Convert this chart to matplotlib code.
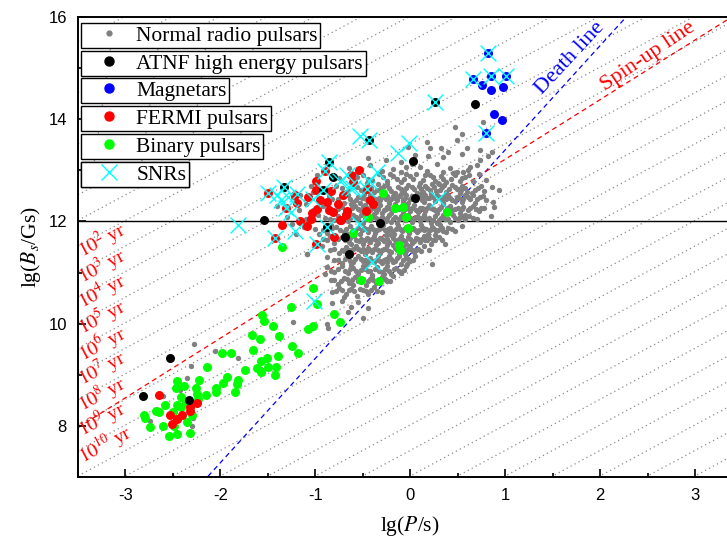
import matplotlib.pyplot as plt
import numpy as np
from matplotlib.lines import Line2D

plt.rcParams['font.family'] = ['Liberation Serif', 'DejaVu Serif']
plt.rcParams['mathtext.fontset'] = 'stix'
plt.rcParams['axes.unicode_minus'] = False

# values: (lg(P/s), lg(B_s/Gs))
normal_psr = np.array([
    (0.18, 13.55), (0.32, 13.43), (0.49, 13.59), (0.47, 13.84), (0.54, 13.72), (0.60, 13.43), (0.74, 13.39),
    (0.86, 13.36), (0.77, 13.95), (0.21, 13.43), (-0.02, 13.45),
    (-0.26, 13.20), (-0.10, 13.16), (0.19, 13.29), (0.35, 13.26), (0.73, 13.20), (0.82, 13.29), (0.05, 13.30),
    (0.55, 13.32), (-0.45, 13.25), (0.40, 13.35),
    (-0.64, 13.05), (-0.42, 13.10), (-0.18, 13.03), (-0.05, 13.06), (0.10, 13.06), (0.28, 13.13), (0.35, 12.97),
    (0.49, 12.97), (0.61, 13.00), (0.70, 13.10), (0.63, 13.06), (0.56, 12.97), (-0.30, 12.98), (0.18, 12.99),
    (-0.10, 12.96), (0.42, 13.05), (0.02, 13.12), (-0.55, 12.98),
    (-0.75, 12.85), (-0.62, 12.78), (-0.50, 12.90), (-0.40, 12.82), (-0.33, 12.92), (-0.25, 12.80), (-0.18, 12.88),
    (-0.10, 12.78), (-0.04, 12.92), (0.03, 12.84), (0.10, 12.76), (0.16, 12.90), (0.21, 12.90), (0.26, 12.80),
    (0.32, 12.88), (0.38, 12.78), (0.47, 12.90), (0.52, 12.80), (0.58, 12.86), (0.66, 12.79), (0.72, 12.92),
    (-0.58, 12.93), (-0.14, 12.84), (0.06, 12.93), (0.29, 12.76), (0.43, 12.84), (-0.46, 12.76), (0.80, 12.82),
    (-0.88, 12.62), (-0.78, 12.70), (-0.68, 12.58), (-0.60, 12.72), (-0.52, 12.62), (-0.44, 12.70), (-0.38, 12.58),
    (-0.31, 12.66), (-0.24, 12.74), (-0.20, 12.60), (-0.13, 12.68), (-0.07, 12.58), (-0.02, 12.72), (0.04, 12.63),
    (0.09, 12.70), (0.13, 12.58), (0.18, 12.66), (0.23, 12.74), (0.27, 12.60), (0.33, 12.68), (0.38, 12.58),
    (0.44, 12.72), (0.49, 12.63), (0.55, 12.70), (0.60, 12.57), (0.65, 12.56), (0.71, 12.66), (0.78, 12.60),
    (0.86, 12.68), (-0.16, 12.56), (0.07, 12.56), (0.30, 12.74), (-0.34, 12.73), (0.52, 12.56), (-0.72, 12.66),
    (0.93, 12.62),
    (-0.95, 12.40), (-0.86, 12.50), (-0.76, 12.44), (-0.66, 12.52), (-0.60, 12.38), (-0.55, 12.47), (-0.49, 12.54),
    (-0.45, 12.40), (-0.40, 12.48), (-0.35, 12.37), (-0.30, 12.52), (-0.26, 12.43), (-0.22, 12.36), (-0.18, 12.50),
    (-0.14, 12.41), (-0.10, 12.54), (-0.06, 12.45), (-0.02, 12.37), (0.02, 12.50), (0.06, 12.42), (0.10, 12.54),
    (0.14, 12.38), (0.18, 12.46), (0.22, 12.53), (0.26, 12.40), (0.31, 12.48), (0.35, 12.36), (0.40, 12.51),
    (0.44, 12.42), (0.49, 12.48), (0.54, 12.38), (0.58, 12.52), (0.63, 12.44), (0.68, 12.37), (0.74, 12.48),
    (0.80, 12.42), (0.87, 12.38), (-0.70, 12.36), (-0.53, 12.36), (-0.33, 12.45), (-0.08, 12.38), (0.12, 12.46),
    (0.38, 12.44), (0.66, 12.52),
    (-1.02, 12.22), (-0.92, 12.30), (-0.80, 12.20), (-0.72, 12.28), (-0.64, 12.18), (-0.58, 12.30), (-0.53, 12.22),
    (-0.48, 12.33), (-0.44, 12.16), (-0.40, 12.26), (-0.36, 12.18), (-0.32, 12.32), (-0.28, 12.22), (-0.24, 12.28),
    (-0.20, 12.17), (-0.16, 12.34), (-0.12, 12.24), (-0.08, 12.16), (-0.04, 12.30), (0.00, 12.21), (0.04, 12.33),
    (0.08, 12.18), (0.12, 12.27), (0.16, 12.20), (0.20, 12.32), (0.24, 12.24), (0.28, 12.16), (0.32, 12.29),
    (0.37, 12.21), (0.42, 12.31), (0.47, 12.24), (0.52, 12.17), (0.56, 12.29), (0.61, 12.22), (0.66, 12.30),
    (0.72, 12.20), (0.88, 12.29), (-0.62, 12.34), (-0.46, 12.26), (-0.30, 12.16), (-0.14, 12.28), (0.02, 12.26),
    (0.18, 12.26), (0.35, 12.34), (0.58, 12.12), (0.78, 12.27),
    (-1.10, 12.05), (-0.97, 12.12), (-0.85, 12.04), (-0.76, 12.10), (-0.66, 12.00), (-0.60, 12.12), (-0.55, 12.04),
    (-0.50, 11.97), (-0.46, 12.10), (-0.42, 12.02), (-0.38, 12.14), (-0.34, 11.98), (-0.30, 12.08), (-0.26, 12.00),
    (-0.22, 12.12), (-0.18, 12.04), (-0.14, 11.96), (-0.10, 12.10), (-0.06, 12.02), (-0.02, 12.13), (0.02, 11.98),
    (0.06, 12.08), (0.10, 12.00), (0.14, 12.12), (0.18, 12.04), (0.22, 11.96), (0.26, 12.10), (0.30, 12.02),
    (0.35, 12.12), (0.40, 12.05), (0.45, 12.12), (0.50, 12.02), (0.55, 12.08), (0.62, 12.10), (0.70, 12.04),
    (-0.70, 12.14), (-0.52, 12.13), (-0.36, 12.06), (-0.20, 11.98), (-0.04, 12.06), (0.12, 12.06), (0.28, 11.97),
    (0.42, 11.98), (0.85, 12.10),
    (-1.00, 11.85), (-0.88, 11.78), (-0.78, 11.90), (-0.70, 11.80), (-0.63, 11.92), (-0.58, 11.82), (-0.53, 11.76),
    (-0.49, 11.88), (-0.45, 11.80), (-0.41, 11.92), (-0.37, 11.77), (-0.33, 11.86), (-0.29, 11.94), (-0.25, 11.80),
    (-0.21, 11.88), (-0.17, 11.76), (-0.13, 11.92), (-0.09, 11.82), (-0.05, 11.90), (-0.01, 11.78), (0.03, 11.88),
    (0.07, 11.80), (0.11, 11.93), (0.15, 11.83), (0.19, 11.76), (0.23, 11.90), (0.27, 11.82), (0.31, 11.93),
    (0.35, 11.82), (0.40, 11.88), (0.47, 11.81), (0.55, 11.92), (-0.66, 11.76), (-0.43, 11.86), (-0.27, 11.84),
    (-0.11, 11.86), (0.05, 11.84), (0.21, 11.84), (0.26, 11.73), (-0.83, 11.93),
    (-0.92, 11.65), (-0.80, 11.58), (-0.72, 11.70), (-0.65, 11.60), (-0.59, 11.72), (-0.54, 11.62), (-0.50, 11.56),
    (-0.46, 11.68), (-0.42, 11.60), (-0.38, 11.72), (-0.34, 11.58), (-0.30, 11.66), (-0.26, 11.74), (-0.22, 11.60),
    (-0.18, 11.68), (-0.14, 11.57), (-0.10, 11.72), (-0.06, 11.62), (-0.02, 11.70), (0.02, 11.58), (0.06, 11.68),
    (0.10, 11.60), (0.14, 11.72), (0.18, 11.64), (0.22, 11.56), (0.30, 11.70), (0.37, 11.56), (-0.62, 11.56),
    (-0.40, 11.66), (-0.20, 11.74), (-0.04, 11.56), (0.12, 11.66), (-0.85, 11.72), (0.26, 11.63),
    (-0.85, 11.45), (-0.75, 11.38), (-0.68, 11.50), (-0.62, 11.40), (-0.57, 11.52), (-0.52, 11.42), (-0.48, 11.36),
    (-0.44, 11.48), (-0.40, 11.40), (-0.36, 11.53), (-0.32, 11.38), (-0.28, 11.46), (-0.24, 11.54), (-0.20, 11.40),
    (-0.16, 11.48), (-0.12, 11.37), (-0.08, 11.50), (-0.04, 11.42), (0.00, 11.52), (0.04, 11.40), (0.08, 11.47),
    (0.14, 11.52), (-0.55, 11.47), (-0.34, 11.45), (-0.18, 11.54), (-0.06, 11.36), (-0.70, 11.42), (-1.09, 11.37),
    (0.20, 11.45), (-0.93, 11.52),
    (-0.80, 11.25), (-0.72, 11.18), (-0.66, 11.30), (-0.60, 11.20), (-0.55, 11.32), (-0.50, 11.22), (-0.46, 11.16),
    (-0.42, 11.28), (-0.38, 11.20), (-0.34, 11.33), (-0.30, 11.18), (-0.26, 11.26), (-0.22, 11.32), (-0.18, 11.20),
    (-0.14, 11.28), (-0.10, 11.17), (-0.05, 11.30), (0.00, 11.22), (0.05, 11.32), (0.23, 11.17), (-0.58, 11.26),
    (-0.40, 11.22), (-0.24, 11.20), (-0.12, 11.33), (-0.88, 11.30), (-0.03, 11.16),
    (-0.88, 11.10), (-0.80, 11.02), (-0.72, 11.12), (-0.66, 11.00), (-0.60, 11.08), (-0.55, 10.98), (-0.50, 11.12),
    (-0.45, 11.04), (-0.40, 10.96), (-0.35, 11.10), (-0.30, 11.02), (-0.25, 11.12), (-0.20, 10.98), (-0.15, 11.08),
    (-0.10, 11.00), (-0.05, 11.12), (-0.90, 10.97), (-0.62, 11.14), (-0.28, 10.97),
    (-0.84, 10.85), (-0.76, 10.78), (-0.70, 10.90), (-0.64, 10.80), (-0.58, 10.92), (-0.52, 10.82), (-0.47, 10.76),
    (-0.42, 10.88), (-0.36, 10.80), (-0.30, 10.92), (-0.24, 10.84), (-0.18, 10.94), (-0.60, 10.76), (-0.40, 10.94),
    (-0.82, 10.62), (-0.75, 10.70), (-0.68, 10.58), (-0.62, 10.68), (-0.56, 10.55), (-0.50, 10.66), (-0.44, 10.58),
    (-0.38, 10.72), (-0.70, 10.52), (-0.30, 10.62),
    (-0.82, 10.40), (-0.72, 10.45), (-0.62, 10.32), (-0.55, 10.42), (-0.50, 10.12), (-0.66, 10.22), (-0.88, 10.00),
    (-0.87, 9.91), (-0.44, 10.30),
    (-1.23, 12.48), (-1.16, 12.51), (-1.30, 12.08), (-1.12, 11.89), (-1.17, 12.22), (-1.05, 12.70), (-1.10, 12.35),
    (-0.96, 11.75), (-1.20, 11.75), (-1.40, 12.30), (-1.02, 12.58), (-0.98, 12.90), (-1.25, 11.95),
    (-2.28, 9.60), (-2.06, 9.46), (-1.81, 9.33), (-2.31, 9.18), (-2.35, 8.93), (-2.60, 8.59), (-2.30, 8.00),
    (-1.24, 10.04), (-1.26, 9.54), (-1.09, 11.37), (-2.43, 8.70), (-2.74, 8.10), (-2.29, 8.16), (-1.57, 9.11),
    (-0.88, 11.10),
])

# the dense core of the normal pulsar cloud
normal_psr_core = np.array([
    (-0.56, 12.87), (-0.44, 12.83), (-0.29, 12.86), (-0.21, 12.93), (-0.07, 12.84), (0.00, 12.88), (0.13, 12.82),
    (0.24, 12.87), (0.35, 12.83), (0.45, 12.94), (0.55, 12.85), (0.62, 12.91),
    (-0.64, 12.64), (-0.56, 12.67), (-0.48, 12.61), (-0.41, 12.66), (-0.35, 12.62), (-0.28, 12.69), (-0.22, 12.66),
    (-0.10, 12.63), (-0.04, 12.66), (0.02, 12.68), (0.11, 12.63), (0.16, 12.70), (0.21, 12.61), (0.25, 12.67),
    (0.31, 12.62), (0.36, 12.71), (0.41, 12.64), (0.47, 12.68), (0.53, 12.62), (0.58, 12.66), (0.68, 12.61),
    (0.75, 12.70),
    (-0.82, 12.44), (-0.71, 12.47), (-0.63, 12.43), (-0.57, 12.42), (-0.51, 12.45), (-0.47, 12.43), (-0.42, 12.52),
    (-0.37, 12.44), (-0.32, 12.41), (-0.28, 12.47), (-0.24, 12.50), (-0.20, 12.44), (-0.16, 12.46), (-0.12, 12.49),
    (-0.08, 12.43), (-0.04, 12.51), (0.00, 12.44), (0.04, 12.46), (0.08, 12.49), (0.12, 12.42), (0.16, 12.52),
    (0.20, 12.45), (0.24, 12.47), (0.28, 12.51), (0.33, 12.43), (0.37, 12.49), (0.42, 12.45), (0.47, 12.40),
    (0.51, 12.46), (0.56, 12.43), (0.61, 12.48), (0.70, 12.44), (0.77, 12.50),
    (-0.86, 12.26), (-0.76, 12.24), (-0.68, 12.23), (-0.61, 12.27), (-0.55, 12.25), (-0.50, 12.28), (-0.42, 12.23),
    (-0.38, 12.26), (-0.34, 12.24), (-0.26, 12.25), (-0.22, 12.27), (-0.18, 12.23), (-0.10, 12.29), (-0.06, 12.24),
    (-0.02, 12.26), (0.06, 12.23), (0.10, 12.27), (0.14, 12.25), (0.22, 12.26), (0.26, 12.22), (0.30, 12.24),
    (0.39, 12.26), (0.44, 12.23), (0.50, 12.27), (0.54, 12.24), (0.63, 12.26), (0.69, 12.24), (0.75, 12.26),
    (-0.90, 12.06), (-0.80, 12.03), (-0.72, 12.05), (-0.63, 12.07), (-0.57, 12.08), (-0.48, 12.05), (-0.44, 12.06),
    (-0.40, 12.09), (-0.32, 12.05), (-0.28, 12.03), (-0.24, 12.06), (-0.16, 12.08), (-0.12, 12.04), (-0.08, 12.07),
    (0.00, 12.06), (0.04, 12.04), (0.08, 12.08), (0.16, 12.07), (0.20, 12.06), (0.24, 12.03), (0.32, 12.07),
    (0.37, 12.04), (0.47, 12.06), (0.52, 12.09), (0.58, 12.04), (0.66, 12.07),
    (-0.92, 11.84), (-0.82, 11.87), (-0.74, 11.84), (-0.68, 11.86), (-0.60, 11.84), (-0.55, 11.87), (-0.51, 11.83),
    (-0.47, 11.85), (-0.39, 11.86), (-0.35, 11.83), (-0.31, 11.87), (-0.23, 11.85), (-0.19, 11.82), (-0.15, 11.86),
    (-0.07, 11.85), (-0.03, 11.83), (0.01, 11.86), (0.09, 11.84), (0.13, 11.87), (0.17, 11.85), (0.25, 11.86),
    (0.29, 11.84), (0.33, 11.87), (0.38, 11.80), (0.44, 11.86),
    (-0.88, 11.64), (-0.76, 11.66), (-0.69, 11.63), (-0.63, 11.67), (-0.57, 11.64), (-0.52, 11.66), (-0.48, 11.63),
    (-0.44, 11.65), (-0.36, 11.64), (-0.32, 11.67), (-0.28, 11.62), (-0.24, 11.65), (-0.16, 11.63), (-0.12, 11.66),
    (-0.08, 11.64), (0.00, 11.65), (0.04, 11.62), (0.08, 11.66), (0.16, 11.64), (0.20, 11.67), (0.24, 11.63),
    (0.33, 11.64),
    (-0.80, 11.46), (-0.72, 11.44), (-0.65, 11.45), (-0.60, 11.47), (-0.50, 11.46), (-0.46, 11.43), (-0.42, 11.45),
    (-0.38, 11.47), (-0.30, 11.44), (-0.26, 11.46), (-0.22, 11.43), (-0.14, 11.45), (-0.10, 11.44), (-0.02, 11.46),
    (0.02, 11.44), (0.06, 11.45), (0.11, 11.43),
    (-0.76, 11.24), (-0.69, 11.26), (-0.63, 11.23), (-0.52, 11.26), (-0.48, 11.24), (-0.44, 11.22), (-0.36, 11.25),
    (-0.32, 11.23), (-0.28, 11.25), (-0.20, 11.26), (-0.16, 11.23), (-0.08, 11.25), (-0.02, 11.27), (0.03, 11.24),
    (-0.84, 11.04), (-0.76, 11.06), (-0.69, 11.04), (-0.63, 11.07), (-0.57, 11.03), (-0.52, 11.05), (-0.48, 11.07),
    (-0.42, 11.03), (-0.37, 11.06), (-0.33, 11.04), (-0.27, 11.07), (-0.22, 11.04), (-0.17, 11.06), (-0.12, 11.03),
    (-0.07, 11.05),
    (-0.80, 10.86), (-0.73, 10.84), (-0.67, 10.87), (-0.61, 10.85), (-0.55, 10.83), (-0.50, 10.87), (-0.44, 10.84),
    (-0.39, 10.86), (-0.33, 10.85), (-0.27, 10.87), (-0.21, 10.84),
    (-0.78, 10.64), (-0.72, 10.66), (-0.65, 10.65), (-0.59, 10.63), (-0.53, 10.67), (-0.47, 10.64), (-0.41, 10.66),
    (-0.35, 10.64),
])

atnf_he = np.array([
    (0.68, 14.29), (0.26, 14.34), (-0.43, 13.59), (0.03, 13.18), (-0.86, 13.16), (-0.81, 12.87), (-1.33, 12.67),
    (-0.92, 12.61), (0.05, 12.46), (-1.54, 12.02), (-0.88, 11.89), (-0.32, 11.96), (-0.69, 11.69), (-0.64, 11.36),
    (-2.53, 9.33), (-2.82, 8.59), (-2.33, 8.50),
])

magnetars = np.array([
    (0.82, 15.29), (0.66, 14.78), (0.85, 14.84), (1.01, 14.84), (0.76, 14.67), (0.85, 14.57), (0.98, 14.63),
    (0.88, 14.10), (0.97, 13.98), (0.80, 13.73),
])

fermi = np.array([
    (-0.90, 12.99), (-0.54, 13.01), (-0.99, 12.79), (-0.60, 12.77), (-1.50, 12.56), (-1.21, 12.52), (-0.99, 12.61),
    (-0.83, 12.59), (-0.71, 12.51), (-0.46, 12.64), (-1.19, 12.36), (-1.08, 12.48), (-0.95, 12.41), (-0.88, 12.38),
    (-0.42, 12.41), (-0.39, 12.35), (-1.31, 12.27), (-0.98, 12.25), (-1.04, 12.16), (-0.86, 12.22), (-0.81, 12.18),
    (-0.47, 12.20), (-1.05, 12.05), (-0.73, 12.02), (-1.16, 12.01), (-1.35, 11.94), (-1.09, 11.92), (-0.80, 11.69),
    (-0.99, 11.55), (-1.43, 11.67), (-0.62, 12.90), (-0.76, 12.35), (-0.67, 12.20), (-0.68, 12.12), (-0.74, 12.02),
    (-2.65, 8.60), (-2.53, 8.21), (-2.46, 8.14), (-2.40, 8.21), (-2.51, 8.03), (-2.32, 8.36), (-2.25, 8.44),
    (-2.32, 8.30),
])

binary = np.array([
    (-1.02, 10.69), (-0.98, 10.39), (-1.26, 10.32), (-1.56, 10.17), (-1.54, 10.06), (-1.45, 9.95), (-1.08, 9.90),
    (-1.02, 9.96), (-1.67, 9.78), (-1.58, 9.70), (-1.38, 9.76), (-1.66, 9.49), (-1.25, 9.57), (-1.18, 9.43),
    (-1.98, 9.42), (-1.89, 9.43), (-1.39, 9.37), (-1.51, 9.33), (-1.57, 9.27), (-2.14, 9.16), (-1.74, 9.10),
    (-1.61, 9.13), (-1.57, 9.05), (-1.50, 9.16), (-1.41, 9.16), (-1.42, 9.00), (-1.93, 8.95), (-1.81, 8.90),
    (-1.83, 8.82), (-1.97, 8.84), (-2.05, 8.75), (-2.05, 8.67), (-2.15, 8.60), (-2.23, 8.90), (-2.46, 8.87),
    (-2.38, 8.78), (-2.47, 8.75), (-2.26, 8.74), (-1.85, 8.66), (-2.41, 8.56), (-2.25, 8.62), (-2.24, 8.53),
    (-2.46, 8.41), (-2.36, 8.46), (-2.58, 8.41), (-2.65, 8.27), (-2.68, 8.29), (-2.81, 8.22), (-2.79, 8.15),
    (-2.74, 7.97), (-2.60, 8.00), (-2.49, 7.99), (-2.46, 7.85), (-2.54, 7.80), (-2.35, 8.08), (-2.32, 7.86),
    (-2.30, 8.21), (-2.42, 8.36), (-2.50, 8.27),
    (-0.29, 12.56), (-0.16, 12.26), (-0.08, 12.28), (-0.04, 12.08), (-0.45, 12.08), (-0.02, 11.87), (0.39, 12.18),
    (-0.60, 11.77), (-0.12, 11.53), (-0.11, 11.45), (-0.52, 10.86), (-0.33, 10.84), (-0.80, 10.19), (-0.74, 10.04),
    (-1.35, 11.50),
])

snrs = np.array([
    (0.82, 15.29), (0.66, 14.78), (0.85, 14.84), (1.01, 14.84), (0.80, 13.73),
    (0.26, 14.34), (-0.43, 13.59), (-0.86, 13.16), (-1.33, 12.67), (-0.92, 12.61), (-0.88, 11.89),
    (-0.90, 12.99), (-1.50, 12.56), (-1.31, 12.27), (-1.43, 11.67), (-0.46, 12.64),
    (-1.81, 11.94), (-0.53, 13.67), (-0.13, 13.34), (-0.01, 13.54), (-0.35, 12.97), (-0.43, 12.80), (-0.74, 12.80),
    (-0.67, 12.90), (-1.40, 12.51), (-1.36, 12.41), (-1.29, 12.48), (-1.19, 12.53), (-1.26, 12.18), (-1.21, 11.82),
    (-0.98, 11.55), (-1.02, 12.44), (-0.60, 12.66), (-0.54, 11.95), (-0.40, 11.20), (0.29, 12.44), (-1.01, 10.45),
    (-0.65, 12.67),
])

# characteristic age lines: lg B = lg P + age_const - 0.5 * lg(tau/yr)
age_const = 15.52
age_line_exps = list(range(-8, 25))
age_label_exps = [2, 3, 4, 5, 6, 7, 8, 9, 10]
# death line and spin-up line (slope, intercept)
death_line = (2.04, 11.36)
spinup_line = (7.0 / 6.0, 12.05)

fig = plt.figure(figsize=(7.27, 5.4), dpi=100)
ax = fig.add_axes([78 / 727, 63 / 540, 664.5 / 727, 460 / 540])
ax.set_xlim(-3.5, 3.5)
ax.set_ylim(7, 16)

xs = np.array([-3.5, 3.5])
for k in age_line_exps:
    ax.plot(xs, xs + age_const - 0.5 * k, color='#8a8a8a', lw=0.9, ls=(0, (1, 2.6)), zorder=1)
ax.plot(xs, death_line[0] * xs + death_line[1], color='blue', lw=0.9, ls=(0, (4, 3)), zorder=1)
ax.plot(xs, spinup_line[0] * xs + spinup_line[1], color='red', lw=0.9, ls=(0, (4, 3)), zorder=1)
ax.axhline(12, color='black', lw=1, zorder=1)

for k in age_label_exps:
    x0 = -3.42
    ax.text(x0, x0 + age_const - 0.5 * k + 0.06, r'$10^{%d}$ yr' % k, color='red', fontsize=14,
            rotation=28, rotation_mode='anchor', ha='left', va='bottom', zorder=2)

ax.text(1.68, 15.2, 'Death line', color='blue', fontsize=16, rotation=47,
        rotation_mode='anchor', ha='center', va='center')
ax.text(2.51, 15.22, 'Spin-up line', color='red', fontsize=16, rotation=34,
        rotation_mode='anchor', ha='center', va='center')

ax.scatter(normal_psr[:, 0], normal_psr[:, 1], s=15, color='#808080', lw=0, zorder=3)
ax.scatter(normal_psr_core[:, 0], normal_psr_core[:, 1], s=15, color='#808080', lw=0, zorder=3)
ax.scatter(binary[:, 0], binary[:, 1], s=42, color='#00ff00', lw=0, zorder=4)
ax.scatter(fermi[:, 0], fermi[:, 1], s=42, color='red', lw=0, zorder=5)
ax.scatter(atnf_he[:, 0], atnf_he[:, 1], s=42, color='black', lw=0, zorder=6)
ax.scatter(magnetars[:, 0], magnetars[:, 1], s=42, color='blue', lw=0, zorder=6)
ax.scatter(snrs[:, 0], snrs[:, 1], s=130, marker='x', color='cyan', lw=1, zorder=7)

ax.set_xticks([-3, -2, -1, 0, 1, 2, 3])
ax.set_xticks(np.arange(-3.5, 3.6, 0.5), minor=True)
ax.set_yticks([8, 10, 12, 14, 16])
ax.set_yticks(range(7, 17), minor=True)
ax.tick_params(which='both', direction='in', top=False, right=False, width=1.2)
ax.tick_params(which='major', length=6, labelsize=12, pad=8)
ax.tick_params(which='minor', length=3)
for lab in ax.get_xticklabels() + ax.get_yticklabels():
    lab.set_fontfamily('Liberation Sans')
for sp in ax.spines.values():
    sp.set_linewidth(1.4)

ax.set_xlabel(r'lg($P$/s)', fontsize=15.5, labelpad=8)
ax.set_ylabel(r'lg($B_s$/Gs)', fontsize=15.5, labelpad=4)

# every legend entry sits in its own box
entries = [
    (Line2D([], [], ls='', marker='o', ms=3.5, color='#808080'), 'Normal radio pulsars', 23),
    (Line2D([], [], ls='', marker='o', ms=6.5, color='black'), 'ATNF high energy pulsars', 51),
    (Line2D([], [], ls='', marker='o', ms=6.5, color='blue'), 'Magnetars', 78),
    (Line2D([], [], ls='', marker='o', ms=6.5, color='red'), 'FERMI pulsars', 106),
    (Line2D([], [], ls='', marker='o', ms=6.5, color='#00ff00'), 'Binary pulsars', 134),
    (Line2D([], [], ls='', marker='x', ms=11, mew=1, color='cyan'), 'SNRs', 162),
]
for handle, label, ytop in entries:
    leg = ax.legend([handle], [label], loc='upper left', bbox_to_anchor=(81 / 727, 1 - ytop / 540),
                    bbox_transform=fig.transFigure, fontsize=15.5, frameon=True, fancybox=False,
                    edgecolor='black', framealpha=1, borderpad=0.12, handlelength=2.35,
                    handletextpad=0.1, borderaxespad=0)
    leg.get_frame().set_linewidth(1.0)
    leg.set_zorder(10)
    ax.add_artist(leg)

fig.savefig('out.png', dpi=100)
